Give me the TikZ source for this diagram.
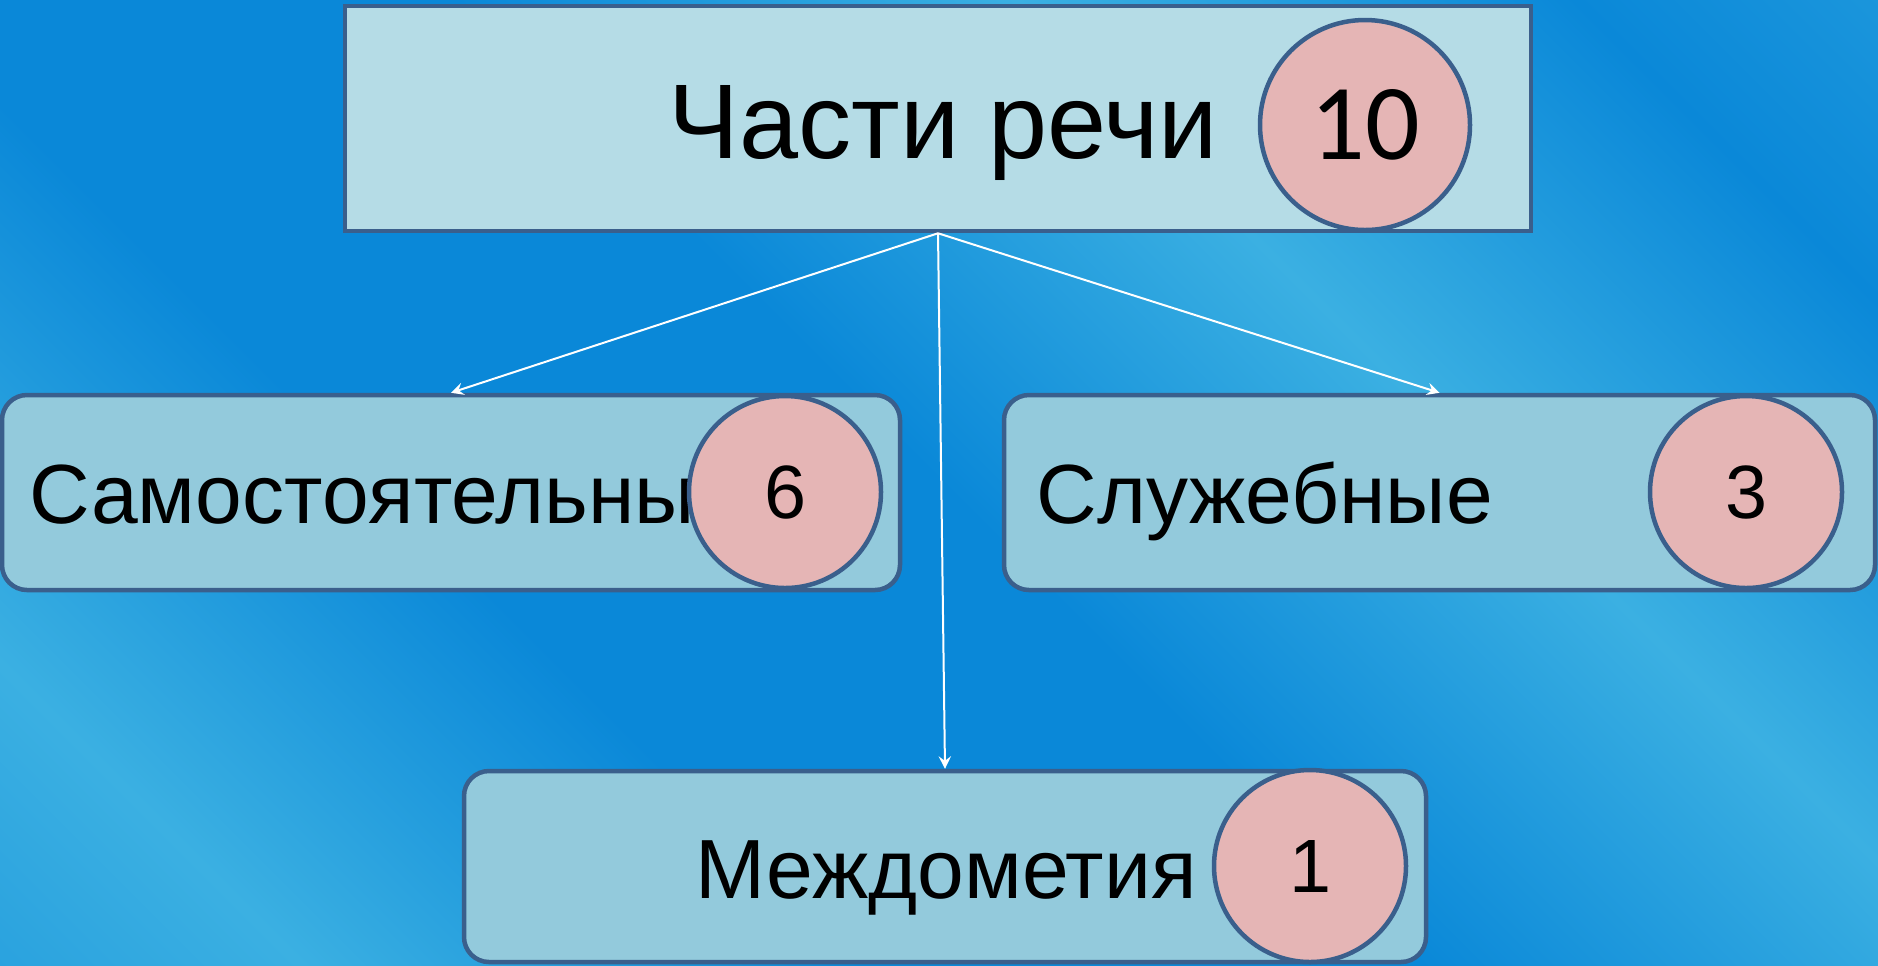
\documentclass[tikz,border=0pt]{standalone}
\usepackage{fontspec}
\setmainfont{Liberation Sans}
\newfontfamily\calibri{Carlito}
\definecolor{bgdark}{HTML}{0A88D8}
\definecolor{bglight}{HTML}{3BB0E2}
\definecolor{topfill}{HTML}{B5DCE6}
\definecolor{partfill}{HTML}{93CADC}
\definecolor{countfill}{HTML}{E5B5B5}
\definecolor{edge}{HTML}{3A5F8C}
\pgfdeclarehorizontalshading{bgstreaks}{100bp}{color(0bp)=(bgdark); color(22bp)=(bglight); color(36bp)=(bgdark); color(50bp)=(bgdark); color(64bp)=(bglight); color(78bp)=(bgdark); color(100bp)=(bglight)}
\tikzset{
  partbox/.style={draw=edge,line width=0.45mm,fill=partfill,rounded corners=2.5mm,minimum height=19.5mm},
  count/.style={circle,draw=edge,line width=0.45mm,fill=countfill,minimum size=19.2mm,inner sep=0pt,font=\fontsize{21.5}{24}\selectfont},
  word/.style={anchor=base west,inner sep=0pt,font=\fontsize{23.9}{28}\selectfont},
  link/.style={-stealth,white,line width=0.2mm}
}
\begin{document}
\begin{tikzpicture}[x=0.1mm,y=-0.1mm]
  \useasboundingbox (0,0) rectangle (1878,965);
  \shade[shading=bgstreaks,shading angle=45] (0,0) rectangle (1878,965);
  % top box
  \node[draw=edge,line width=0.45mm,fill=topfill,minimum width=118.6mm,minimum height=22.5mm] (parts) at (938,118.5) {};
  \node[anchor=base west,inner sep=0pt,font=\fontsize{30.2}{34}\selectfont] (partsname) at (668,158) {Части речи};
  \node[count,minimum size=21mm,font=\calibri\fontsize{30.7}{34}\selectfont] (partscount) at (1365,125) {10};
  % three groups
  \node[partbox,minimum width=89.8mm] (self) at (451,492.5) {};
  \node[word] (selfname) at (29,523) {Самостоятельные};
  \node[count] (selfcount) at (785,492) {6};
  \node[partbox,minimum width=87.1mm] (aux) at (1439.5,492.5) {};
  \node[word] (auxname) at (1036,523) {Служебные};
  \node[count] (auxcount) at (1746,492) {3};
  \node[partbox,minimum width=96.2mm,minimum height=19.1mm] (interj) at (945,866.5) {};
  \node[word] (interjname) at (695,898) {Междометия};
  \node[count] (interjcount) at (1310,866) {1};
  \draw[link] (parts.south) -- (self.north);
  \draw[link] (parts.south) -- (aux.north);
  \draw[link] (parts.south) -- (interj.north);
\end{tikzpicture}
\end{document}
